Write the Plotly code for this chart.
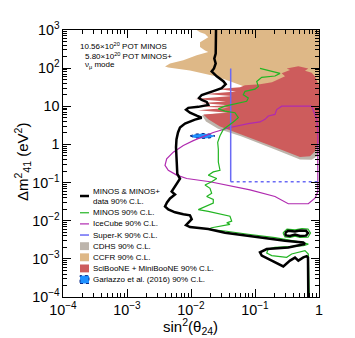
import numpy as np
import plotly.graph_objects as go

# ---- data; stored as log10(sin^2 theta24) and log10(dm41^2 / eV^2)
minos_comb_ls = [-1.609, -1.614, -1.636, -1.614, -1.641, -1.677, -1.598, -1.495, -1.458, -1.520,
                 -1.652, -1.833, -1.875, -1.833, -1.755, -1.730, -1.886, -2.042, -2.078, -2.016,
                 -1.911, -1.833, -1.938, -2.094, -2.172, -2.203, -2.227, -2.234, -2.223, -2.214,
                 -2.172, -2.223, -2.266, -2.302, -2.250, -2.328, -2.375, -2.406, -2.355, -2.250,
                 -2.120, -2.016, -1.989, -2.042, -2.078, -2.016, -1.730, -1.469, -0.948, -0.531,
                 -0.245, -0.219, -0.480, -0.817, -0.922, -0.895, -0.558, -0.453, -0.375, -0.323,
                 -0.245, -0.192, -0.172, -0.167]
minos_comb_ldm = [3.0, 2.380, 2.251, 2.122, 1.993, 1.915, 1.786, 1.657, 1.579, 1.476,
                  1.398, 1.295, 1.218, 1.166, 1.114, 1.037, 0.985, 0.959, 0.908, 0.830,
                  0.753, 0.701, 0.649, 0.546, 0.443, 0.313, 0.133, -0.074, -0.462, -0.772,
                  -0.901, -1.030, -1.159, -1.237, -1.314, -1.417, -1.521, -1.624, -1.702, -1.779,
                  -1.831, -1.857, -1.960, -2.063, -2.115, -2.167, -2.218, -2.314, -2.443, -2.528,
                  -2.572, -2.613, -2.701, -2.743, -2.830, -2.916, -3.200, -3.045, -2.967, -3.045,
                  -2.960, -2.929, -2.967, -4.0]
minos_comb_island_ls = [-0.531, -0.484, -0.375, -0.297, -0.203, -0.172, -0.203, -0.297, -0.375, -0.453, -0.516, -0.531]
minos_comb_island_ldm = [-2.322, -2.262, -2.283, -2.257, -2.265, -2.322, -2.391, -2.399, -2.360, -2.399, -2.386, -2.322]

minos_ls = [-0.922, -0.739, -0.609, -0.688, -0.895, -0.973, -0.948, -1.0, -1.156, -1.183,
            -1.105, -1.130, -1.286, -1.469, -1.573, -1.469, -1.313, -1.261, -1.339, -1.442,
            -1.495, -1.547, -1.583, -1.573, -1.573, -1.547, -1.652, -1.730, -1.598, -1.677,
            -1.781, -1.703, -1.677, -1.755, -1.652, -1.652, -1.886, -1.730, -1.625, -1.391,
            -1.364, -1.442, -1.391, -1.677, -1.730, -1.469, -1.105, -0.688, -0.245, -0.167,
            -0.245, -0.688, -0.792, -0.817, -0.739, -0.505, -0.427, -0.219, -0.167, -0.152]
minos_ldm = [1.993, 1.907, 1.863, 1.794, 1.760, 1.649, 1.520, 1.450, 1.391, 1.303,
             1.218, 1.132, 1.070, 1.003, 0.933, 0.874, 0.830, 0.701, 0.590, 0.468,
             0.391, 0.228, 0.055, -0.126, -0.462, -0.676, -0.720, -0.805, -0.893, -0.978,
             -1.064, -1.151, -1.281, -1.366, -1.443, -1.539, -1.709, -1.753, -1.797, -1.882,
             -2.012, -2.055, -2.097, -2.185, -2.226, -2.270, -2.355, -2.443, -2.572, -2.613,
             -2.657, -2.701, -2.743, -2.846, -2.916, -2.960, -2.872, -2.786, -2.872, -4.0]
minos_island_ls = [-0.563, -0.500, -0.375, -0.266, -0.172, -0.133, -0.172, -0.297, -0.375, -0.453, -0.531, -0.563]
minos_island_ldm = [-2.322, -2.218, -2.239, -2.210, -2.218, -2.322, -2.433, -2.438, -2.407, -2.438, -2.425, -2.322]

icecube_ls = [-0.114, -0.583, -0.661, -0.688, -0.792, -0.844, -0.922, -1.105, -1.391, -1.652,
              -1.964, -2.120, -2.277, -2.380, -2.406, -2.355, -2.223, -2.067, -1.703, -1.339,
              -1.078, -0.688, -0.480, -0.167, -0.063, -0.018, -0.020, -0.020, -0.036, -0.089, -0.114]
icecube_ldm = [1.003, 1.003, 0.915, 0.786, 0.745, 0.657, 0.590, 0.546, 0.443, 0.313,
               0.099, -0.030, -0.203, -0.376, -0.547, -0.676, -0.805, -0.893, -0.978, -1.107,
               -1.193, -1.366, -1.555, -1.555, -1.410, -1.237, -0.591, 0.391, 0.657, 0.915, 1.003]

superk_vert_s = [0.0417, 0.0417]
superk_vert_dm = [98.0, 0.105]
superk_horiz_s = [0.0417, 1.0]
superk_horiz_dm = [0.105, 0.105]

cdhs_ls = [-1.078, 0.0, 0.0, -0.036, -0.114, -0.297, -0.688, -1.208, -1.578, -1.766, -1.828, -1.703, -1.234, -1.078]
cdhs_ldm = [1.347, 1.347, -0.190, -0.315, -0.400, -0.392, -0.130, 0.205, 0.410, 0.600, 0.765, 0.790, 0.882, 1.347]

ccfr_ls = [-1.911, -1.859, -1.781, -1.730, -1.859, -1.859, -1.781, -1.730, -1.911, -2.120,
           -2.328, -2.406, -2.355, -2.016, -1.598, -1.359, -1.156, -0.922, -0.609, -0.297,
           0.0, 0.0, -1.911]
ccfr_ldm = [3.0, 2.941, 2.897, 2.811, 2.682, 2.553, 2.465, 2.424, 2.336, 2.207,
            2.122, 2.044, 2.018, 1.941, 1.778, 1.631, 1.515, 1.528, 1.657, 1.657,
            1.347, 3.0, 3.0]

sbmb_ls = [-1.156, -0.922, -0.734, -0.641, -0.531, -0.583, -0.453, -0.505, -0.323, -0.167,
           -0.219, -0.114, -0.063, -0.031, 0.0, 0.0, -0.063, -0.141, -0.297, -0.688,
           -1.208, -1.547, -1.730, -1.808, -1.422, -1.891, -1.406, -1.859, -1.422, -1.844,
           -1.453, -1.938, -1.359, -1.781, -1.297, -1.578, -1.234, -1.156]
sbmb_ldm = [1.553, 1.579, 1.631, 1.708, 1.786, 1.863, 1.949, 1.993, 2.052, 1.993,
            1.933, 1.881, 1.778, 1.657, 1.553, 0.055, -0.177, -0.307, -0.332, -0.074,
            0.262, 0.468, 0.657, 0.786, 0.830, 0.895, 0.959, 0.985, 1.024, 1.088,
            1.127, 1.192, 1.269, 1.321, 1.385, 1.450, 1.502, 1.553]

gariazzo_ls = [-2.016, -1.938, -1.813, -1.703, -1.625, -1.703, -1.813, -1.938, -2.016]
gariazzo_ldm = [0.223, 0.270, 0.288, 0.270, 0.223, 0.171, 0.158, 0.171, 0.223]

legend_labels = ["MINOS & MINOS+<br>data 90% C.L.", "MINOS 90% C.L.", "IceCube 90% C.L.",
                 "Super-K 90% C.L.", "CDHS 90% C.L.", "CCFR 90% C.L.",
                 "SciBooNE + MiniBooNE 90% C.L.", "Gariazzo et al. (2016) 90% C.L."]
info_lines = ["10.56×10<sup>20</sup> POT MINOS", "5.80×10<sup>20</sup> POT MINOS+", "ν<sub>μ</sub> mode"]

C_BLACK = "black"
C_GREEN = "#22B522"
C_MAG = "#B02AB0"
C_SK = "#6A6AF5"
C_CDHS = "#BDB5AC"
C_CCFR = "#DEB887"
C_SBMB = "#CD5C5C"
C_GAR = "#1E90FF"

def p10(a):
    return np.power(10.0, np.asarray(a, dtype=float))

fig = go.Figure()

def fill(ls, ldm, color, line=None):
    fig.add_trace(go.Scatter(x=p10(ls), y=p10(ldm), mode="lines", fill="toself",
                             fillcolor=color,
                             line=line if line else dict(width=0, color=color),
                             showlegend=False, hoverinfo="skip"))

def curve(xs, ys, color, width, dash="solid"):
    fig.add_trace(go.Scatter(x=xs, y=ys, mode="lines",
                             line=dict(color=color, width=width, dash=dash),
                             showlegend=False, hoverinfo="skip"))

fill(ccfr_ls, ccfr_ldm, C_CCFR)
fill(cdhs_ls, cdhs_ldm, C_CDHS)
fill(sbmb_ls, sbmb_ldm, C_SBMB)
fill(gariazzo_ls, gariazzo_ldm, C_GAR, line=dict(width=1, color="#0A2A8A", dash="dot"))
curve(p10(icecube_ls), p10(icecube_ldm), C_MAG, 1.2)
curve(superk_vert_s, superk_vert_dm, C_SK, 1.5)
curve(superk_horiz_s, superk_horiz_dm, C_SK, 1.5, dash="dot")
curve(p10(minos_ls), p10(minos_ldm), C_GREEN, 1.2)
curve(p10(minos_island_ls), p10(minos_island_ldm), C_GREEN, 1.2)
curve(p10(minos_comb_ls), p10(minos_comb_ldm), C_BLACK, 2.5)
curve(p10(minos_comb_island_ls), p10(minos_comb_island_ldm), C_BLACK, 2.5)

FONT = "Liberation Sans, Arial, Helvetica, sans-serif"

axis_common = dict(type="log", showline=True, linecolor="black", linewidth=1.2, mirror="ticks",
                   ticks="inside", ticklen=8, tickwidth=1, tickcolor="black",
                   dtick=1, exponentformat="power", showgrid=False, zeroline=False,
                   tickfont=dict(family=FONT, size=11.5, color="black"),
                   minor=dict(ticks="inside", ticklen=4, tickwidth=1, tickcolor="black", showgrid=False))

fig.update_xaxes(range=[-4, 0], **axis_common)
fig.update_yaxes(range=[-4, 3], **axis_common)

# The page body adds an 8 px margin, so the figure is sized/offset to put the
# plot area at the reference position inside the 355x338 window.
OFF = 8
L, R, T, B = 63, 319, 26, 297          # plot area in window pixels
W, H = 355 - OFF, 338 - OFF
def px(xp):
    return (xp - L) / (R - L)
def py(yp):
    return (B - yp) / (B - T)

ann = []
ann.append(dict(text="sin<sup>2</sup>(θ<sub>24</sub>)", x=px(190), y=py(327), xref="paper", yref="paper",
                showarrow=False, xanchor="center", yanchor="middle", font=dict(family=FONT, size=15, color="black")))
ann.append(dict(text="Δm<sup>2</sup><sub>41</sub> (eV<sup>2</sup>)", x=px(22), y=py(160), xref="paper", yref="paper",
                textangle=-90, showarrow=False, xanchor="center", yanchor="middle",
                font=dict(family=FONT, size=15, color="black")))
for txt, xl, yl in zip(info_lines, [78, 83, 83], [42.5, 52, 62]):
    ann.append(dict(text=txt, x=px(xl), y=py(yl), xref="paper", yref="paper", showarrow=False,
                    xanchor="left", yanchor="middle", font=dict(family=FONT, size=8, color="black")))

shapes = []
row_y = [194.5, 211.5, 222.8, 234.1, 245.4, 256.7, 268.0, 279.3]
line_styles = [(C_BLACK, 2.5), (C_GREEN, 1.2), (C_MAG, 1.2), (C_SK, 1.5)]
box_styles = [C_CDHS, C_CCFR, C_SBMB, C_GAR]
for i, (lab, yy) in enumerate(zip(legend_labels, row_y)):
    ann.append(dict(text=lab, x=px(91), y=py(yy), xref="paper", yref="paper", showarrow=False,
                    xanchor="left", yanchor="middle", align="left",
                    font=dict(family=FONT, size=8, color="black")))
    if i < 4:
        c, w = line_styles[i]
        shapes.append(dict(type="line", xref="paper", yref="paper", x0=px(80), x1=px(89),
                           y0=py(yy), y1=py(yy), line=dict(color=c, width=w)))
    else:
        c = box_styles[i - 4]
        border = dict(color="#0A2A8A", width=1, dash="dot") if i == 7 else dict(width=0)
        shapes.append(dict(type="rect", xref="paper", yref="paper", x0=px(80), x1=px(89),
                           y0=py(yy + 4), y1=py(yy - 4), fillcolor=c, line=border))

fig.update_layout(width=W, height=H,
                  margin=dict(l=L - OFF, r=W - (R - OFF), t=T - OFF, b=H - (B - OFF), pad=0),
                  paper_bgcolor="white", plot_bgcolor="white", showlegend=False,
                  annotations=ann, shapes=shapes, font=dict(family=FONT))

fig.write_html("out.html")
